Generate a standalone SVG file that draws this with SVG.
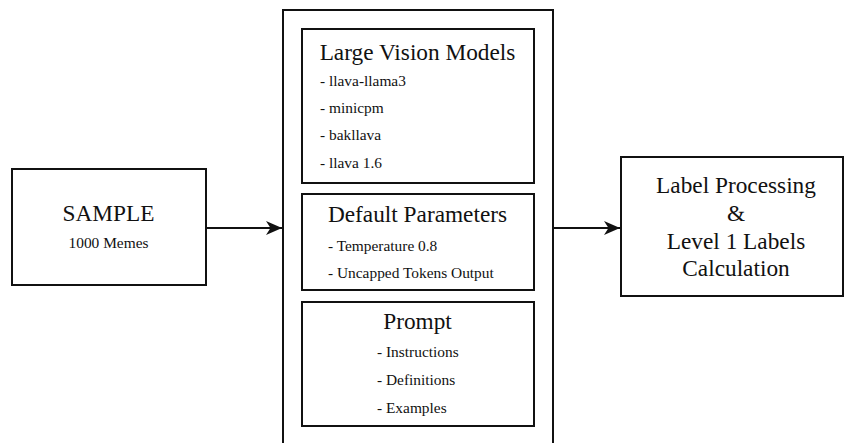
<svg xmlns="http://www.w3.org/2000/svg" width="845" height="443" viewBox="0 0 845 443">
<style>
.box{fill:#fff;stroke:#111;stroke-width:2}
text{font-family:'Liberation Serif','DejaVu Serif',serif;fill:#111}
.h{font-size:23.3px}
.s{font-size:15.4px}
.c{text-anchor:middle}
.line{stroke:#111;stroke-width:2;fill:none}
</style>
<defs>
<marker id="arr" viewBox="0 0 16 14" refX="16" refY="7" markerWidth="16" markerHeight="14" markerUnits="userSpaceOnUse" orient="auto">
<path d="M0,0 L16,7 L0,14 L4.5,7 Z" fill="#111"/>
</marker>
</defs>
<rect width="845" height="443" fill="#fff"/>
<g id="sample">
<rect class="box" x="12" y="169" width="194" height="116"/>
<text class="h c" x="108.5" y="221">SAMPLE</text>
<text class="s c" x="108.5" y="248">1000 Memes</text>
</g>
<g id="pipeline">
<rect class="box" x="283" y="10" width="270" height="445"/>
</g>
<g id="lvm">
<rect class="box" x="302" y="29" width="232" height="154"/>
<text class="h c" x="417.5" y="60">Large Vision Models</text>
<text class="s" x="320" y="86">- llava-llama3</text>
<text class="s" x="320" y="113">- minicpm</text>
<text class="s" x="320" y="140">- bakllava</text>
<text class="s" x="320" y="168">- llava 1.6</text>
</g>
<g id="params">
<rect class="box" x="302" y="194" width="232" height="96"/>
<text class="h c" x="417.5" y="222">Default Parameters</text>
<text class="s" x="328" y="251">- Temperature 0.8</text>
<text class="s" x="328" y="278">- Uncapped Tokens Output</text>
</g>
<g id="prompt">
<rect class="box" x="302" y="302" width="232" height="124"/>
<text class="h c" x="417.5" y="329">Prompt</text>
<text class="s" x="377" y="357">- Instructions</text>
<text class="s" x="377" y="385">- Definitions</text>
<text class="s" x="377" y="413">- Examples</text>
</g>
<g id="labels">
<rect class="box" x="621" y="157" width="222" height="139"/>
<text class="h c" x="736" y="193">Label Processing</text>
<text class="h c" x="736" y="221">&amp;</text>
<text class="h c" x="736" y="249">Level 1 Labels</text>
<text class="h c" x="736" y="276">Calculation</text>
</g>
<g id="connectors">
<line class="line" x1="206" y1="228" x2="282" y2="228" marker-end="url(#arr)"/>
<line class="line" x1="553" y1="228" x2="620" y2="228" marker-end="url(#arr)"/>
</g>
</svg>
